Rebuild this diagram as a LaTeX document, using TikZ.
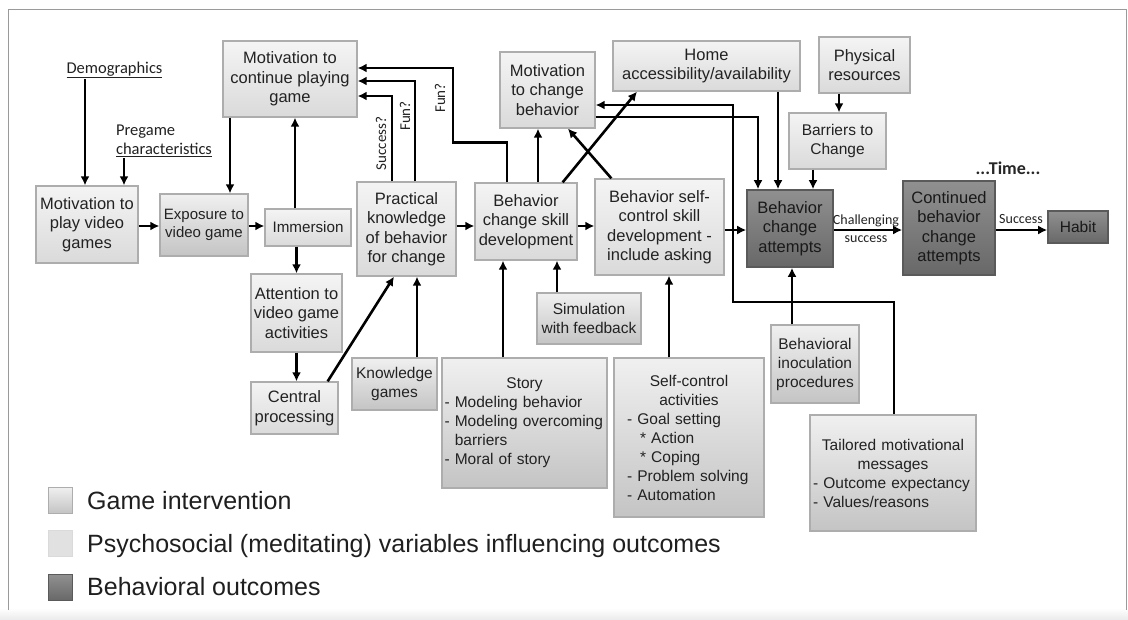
\documentclass[tikz,border=0pt]{standalone}
\usepackage{fontspec}
\setmainfont{Liberation Sans}
\newfontfamily\lblfont{Carlito}
\usetikzlibrary{arrows.meta,shadings,calc}

\definecolor{frameline}{HTML}{9A9A9A}
\definecolor{boxline}{HTML}{ADADAD}
\definecolor{txt}{HTML}{222222}
\definecolor{giTop}{HTML}{F0F0F0}
\definecolor{giBot}{HTML}{C4C4C4}
\definecolor{psTop}{HTML}{F4F4F4}
\definecolor{psBot}{HTML}{DADADA}
\definecolor{boTop}{HTML}{909090}
\definecolor{boBot}{HTML}{686868}
\definecolor{boLine}{HTML}{5A5A5A}

\tikzset{
  base/.style={rectangle, draw=boxline, line width=1.3pt, inner sep=1pt,
    align=center, text=txt},
  psbox/.style={base, top color=psTop, bottom color=psBot,
    font=\fontsize{16.5}{19.5}\selectfont},
  gibox/.style={base, top color=giTop, bottom color=giBot,
    font=\fontsize{15.5}{19}\selectfont},
  bobox/.style={base, draw=boLine, line width=1.6pt, top color=boTop,
    bottom color=boBot, text=black!90, font=\fontsize{16.5}{19.5}\selectfont},
  sz/.style 2 args={minimum width=#1pt, minimum height=#2pt},
  arr/.style={draw=black, line width=2.6pt, -{Latex[length=9pt,width=9pt]}},
  lbl/.style={text=txt, inner sep=1pt, font=\lblfont\fontsize{16.5}{19}\selectfont},
  vlbl/.style={lbl, rotate=90, font=\lblfont\fontsize{15}{18}\selectfont},
  legtext/.style={anchor=base west, inner sep=0pt, text=black!88,
    font=\fontsize{25}{30}\selectfont},
}

\begin{document}
\begin{tikzpicture}[x=1pt, y=-1pt]
\useasboundingbox (0,0) rectangle (1128,619);
\fill[white] (0,0) rectangle (1128,619);
\shade[top color=white, bottom color=gray!15] (0,608) rectangle (1128,619);
\draw[frameline, line width=1.8pt] (8.5,610) -- (8.5,9.5) -- (1126.5,9.5) -- (1126.5,610);

% ---- boxes ----
\node[psbox, sz={102}{77}] (mplay) at (87,224.5) {Motivation to\\play video\\games};
\node[gibox, sz={88}{62}, font=\fontsize{15}{18}\selectfont] (expo) at (204,225) {Exposure to\\video game};
\node[psbox, sz={86}{37}, font=\fontsize{15.2}{18}\selectfont] (imm) at (308,227.5) {Immersion};
\node[psbox, sz={91}{78}] (att) at (296.5,313) {Attention to\\video game\\activities};
\node[psbox, sz={87}{52}] (cent) at (294.5,408) {Central\\processing};
\node[psbox, sz={134}{76}] (mcont) at (290,79) {Motivation to\\continue playing\\game};
\node[psbox, sz={99}{94}] (prac) at (406.5,229) {Practical\\knowledge\\of behavior\\for change};
\node[gibox, sz={85}{52}] (know) at (394.5,384) {Knowledge\\games};
\node[psbox, sz={102}{77}] (bcs) at (526,221.5) {Behavior\\change skill\\development};
\node[psbox, sz={95}{76}] (mchg) at (547.5,90) {Motivation\\to change\\behavior};
\node[psbox, sz={187}{50}] (home) at (706.5,66) {Home\\accessibility/availability};
\node[psbox, sz={91}{56}] (phys) at (864.5,65) {Physical\\resources};
\node[psbox, sz={97}{56}, font=\fontsize{15.5}{19.5}\selectfont] (barr) at (837.5,141) {Barriers to\\Change};
\node[psbox, sz={129}{96}] (bsc) at (659.5,227) {Behavior self-\\control skill\\development -\\include asking};
\node[gibox, sz={104}{51}] (sim) at (589,318.5) {Simulation\\with feedback};
\node[gibox, sz={165}{130}, text width=160pt, align=left] (story) at (524.5,423)
  {\makebox[\linewidth]{Story}\\- Modeling behavior\\- Modeling overcoming\\\phantom{- }barriers\\- Moral of story};
\node[gibox, sz={150}{159}, text width=124pt, align=left] (sca) at (689,437.5)
  {\makebox[\linewidth]{Self-control}\\\makebox[\linewidth]{activities}\\- Goal setting\\\hspace*{13pt}* Action\\\hspace*{13pt}* Coping\\- Problem solving\\- Automation};
\node[bobox, sz={86}{77}] (att2) at (790,228.5) {Behavior\\change\\attempts};
\node[bobox, sz={92}{94}] (cont) at (949,228) {Continued\\behavior\\change\\attempts};
\node[bobox, sz={60}{32}, font=\fontsize{15.5}{19}\selectfont] (habit) at (1078,227) {Habit};
\node[gibox, sz={88}{78}] (inoc) at (815,364) {Behavioral\\inoculation\\procedures};
\node[gibox, sz={166}{116}, text width=160pt, align=left] (tail) at (893,473)
  {\makebox[\linewidth]{Tailored motivational}\\\makebox[\linewidth]{messages}\\- Outcome expectancy\\- Values/reasons};

% ---- free labels ----
\node[lbl] (demo) at (114.5,70) {\underline{Demographics}};
\node[lbl, align=left] (preg) at (164,141) {Pregame\\\underline{characteristics}};
\node[vlbl] (lsuc) at (381,143.5) {Success?};
\node[vlbl] (lfun1) at (405,116) {Fun?};
\node[vlbl] (lfun2) at (440,98) {Fun?};
\node[lbl, align=center, font=\lblfont\fontsize{14}{18}\selectfont] (lchal) at (866,229) {Challenging\\success};
\node[lbl, font=\lblfont\fontsize{14}{18}\selectfont] (lsucc) at (1021,219) {Success};
\node[lbl, font=\lblfont\bfseries\fontsize{18}{20}\selectfont, text=black!85] (time) at (1008,168) {...Time...};

% ---- main row ----
\coordinate (rowA) at (0,226);
\coordinate (rowB) at (0,230);
\draw[arr] (mplay.east |- rowA) -- (expo.west |- rowA);
\draw[arr] (expo.east |- rowA) -- (imm.west |- rowA);
\draw[arr] (prac.east |- rowA) -- (bcs.west |- rowA);
\draw[arr] (bcs.east |- rowA) -- (bsc.west |- rowA);
\draw[arr] (bsc.east |- rowB) -- (att2.west |- rowB);
\draw[arr] (att2.east |- rowB) -- (cont.west |- rowB);
\draw[arr] (cont.east |- rowB) -- (habit.west |- rowB);

% ---- game side ----
\draw[arr] ([xshift=-2pt]mplay.north |- demo.south) -- ([xshift=-2pt]mplay.north);
\draw[arr] ([xshift=37pt]mplay.north |- preg.south) -- ([xshift=37pt]mplay.north);
\draw[arr] ([xshift=-60pt]mcont.south) -- ([xshift=-60pt]mcont.south |- expo.north);
\draw[arr] ([xshift=-13pt]imm.north) -- ([xshift=-13pt]imm.north |- mcont.south);
\draw[arr] (att.north |- imm.south) -- (att.north);
\draw[arr] (att.south) -- (att.south |- cent.north);
\draw[arr] ([xshift=-11pt]cent.north east) -- ([xshift=-12.5pt]prac.south);
\draw[arr] ([xshift=22.5pt]know.north) -- ([xshift=22.5pt]know.north |- prac.south);

% ---- feedback to motivation to continue ----
\draw[arr] ([xshift=-14.5pt]prac.north) |- ([yshift=-17pt]mcont.east);
\draw[arr] ([xshift=8.5pt]prac.north) |- ([yshift=-2pt]mcont.east);
\draw[arr] ([xshift=-19pt]bcs.north) -- ++(0,-40) -- ++(-54,0) |- ([yshift=11pt]mcont.east);

% ---- skills and motivation ----
\draw[arr] ([xshift=12pt]bcs.north) -- ([xshift=12pt]bcs.north |- mchg.south);
\draw[arr] ([xshift=-15pt]bcs.north east) -- ([xshift=-69.5pt]home.south);
\draw[arr] ([xshift=17pt]bsc.north west) -- ([xshift=20.5pt]mchg.south);
\draw[arr] ([xshift=-21.5pt]story.north) -- ([xshift=-21.5pt]story.north |- bcs.south);
\draw[arr] ([xshift=-32pt]sim.north) -- ([xshift=-32pt]sim.north |- bcs.south);
\draw[arr] ([xshift=-20pt]sca.north) -- ([xshift=-20pt]sca.north |- bsc.south);

% ---- into behavior change attempts ----
\draw[arr] ([yshift=-27pt]mchg.east) -| ([xshift=-32pt]att2.north);
\draw[arr] ([xshift=-12pt]att2.north |- home.south) -- ([xshift=-12pt]att2.north);
\draw[arr] ([xshift=-25.5pt]phys.south) -- ([xshift=-25.5pt]phys.south |- barr.north);
\draw[arr] ([xshift=23pt]att2.north |- barr.south) -- ([xshift=23pt]att2.north);
\draw[arr] ([xshift=-23pt]inoc.north) -- ([xshift=-23pt]inoc.north |- att2.south);
\coordinate (tbend) at (733,302);
\draw[arr] ([xshift=1pt]tail.north) |- (tbend) |- ([yshift=-15pt]mchg.east);

% ---- legend ----
\node[base, top color=giTop, bottom color=giBot, line width=0.8pt, sz={24}{26}] (lg1) at (60,500) {};
\node[rectangle, fill=psBot!80, draw=psBot, line width=0.6pt, sz={24}{26}] (lg2) at (60,543.5) {};
\node[bobox, line width=0.8pt, sz={24}{26}] (lg3) at (60,587.5) {};
\node[legtext] (lt1) at (87,509) {Game intervention};
\node[legtext] (lt2) at (87,552) {Psychosocial (meditating) variables influencing outcomes};
\node[legtext] (lt3) at (87,595.5) {Behavioral outcomes};
\end{tikzpicture}
\end{document}
